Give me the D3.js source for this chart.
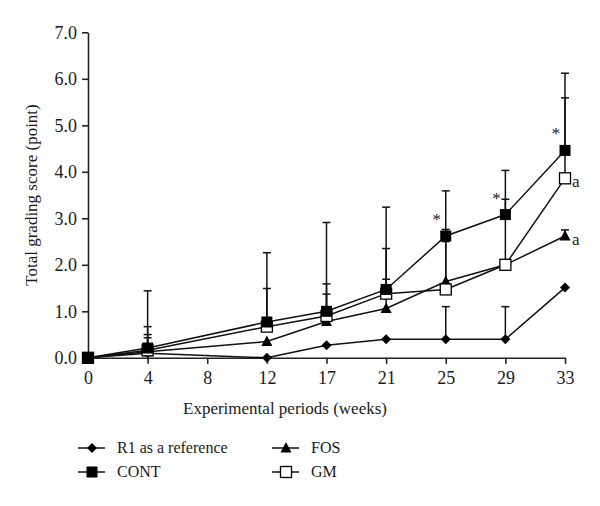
<!DOCTYPE html>
<html><head><meta charset="utf-8">
<script src="https://cdn.jsdelivr.net/npm/d3@7/dist/d3.min.js"></script>
<style>body{margin:0;background:#fff}svg{display:block}text{font-family:"Liberation Serif","DejaVu Serif",serif;fill:#1a1a1a}</style>
</head><body><svg id="c" width="600" height="506"></svg>
<script>
const xTicks = ["0","4","8","12","17","21","25","29","33"];
const weeks = ["0","4","12","17","21","25","29","33"];
const yTicks = [0,1,2,3,4,5,6,7];
const r1Mean   = [0, 0.10, 0.00, 0.27, 0.40, 0.40, 0.40, 1.51];
const r1Top    = [null, 0.43, null, null, null, 1.10, 1.10, null];
const contMean = [0, 0.21, 0.77, 1.00, 1.47, 2.62, 3.08, 4.46];
const contTop  = [null, 1.44, 2.26, 2.91, 3.24, 3.59, 4.03, 6.12];
const fosMean  = [0, 0.13, 0.35, 0.78, 1.06, 1.64, 2.00, 2.62];
const fosTop   = [null, 0.50, null, 1.37, 1.69, 2.50, null, 2.75];
const gmMean   = [0, 0.16, 0.67, 0.90, 1.38, 1.47, 2.00, 3.86];
const gmTop    = [null, 0.67, 1.49, 1.59, 2.35, 2.76, 3.41, 5.59];
const stars = [{w:"25", v:2.62}, {w:"29", v:3.08}, {w:"33", v:4.46}];
const letters = [{w:"33", v:3.86, t:"a"}, {w:"33", v:2.62, t:"a"}];
const seriesNames = ["R1 as a reference","CONT","FOS","GM"];

const svg = d3.select("#c");
const x = d3.scalePoint().domain(xTicks).range([88,565]).padding(0);
const y = d3.scaleLinear().domain([0,7]).range([357.8,32.3]);

const series = [
  {name:seriesNames[0], mean:r1Mean, top:r1Top, sym:"diamond"},
  {name:seriesNames[1], mean:contMean, top:contTop, sym:"square"},
  {name:seriesNames[2], mean:fosMean, top:fosTop, sym:"triangle"},
  {name:seriesNames[3], mean:gmMean, top:gmTop, sym:"open"}
];

const yAxis = svg.append("g").attr("transform","translate(88,0)")
  .call(d3.axisLeft(y).tickValues(yTicks).tickFormat(d3.format(".1f")).tickSize(6).tickSizeOuter(0));
const xAxis = svg.append("g").attr("transform","translate(0,357.8)")
  .call(d3.axisBottom(x).tickSize(6).tickSizeOuter(0));
[yAxis,xAxis].forEach(a=>{
  a.selectAll("path,line").attr("stroke","#222").attr("stroke-width",1.6);
  a.selectAll("text").attr("font-size",18).style("font-family","'Liberation Serif',serif").attr("fill","#1a1a1a");
});
yAxis.selectAll("text").attr("x",-11);
xAxis.selectAll("text").attr("y",13);

svg.append("text").attr("transform","translate(37,195) rotate(-90)").attr("text-anchor","middle")
  .attr("font-size",17).text("Total grading score (point)");
svg.append("text").attr("x",285).attr("y",414).attr("text-anchor","middle")
  .attr("font-size",17).text("Experimental periods (weeks)");

const line = d3.line().defined(d=>d[1]!=null).x(d=>x(d[0])).y(d=>y(d[1]));
series.forEach(s=>{
  svg.append("path").attr("d",line(weeks.map((w,i)=>[w,s.mean[i]])))
    .attr("fill","none").attr("stroke","#111").attr("stroke-width",1.5);
});
series.forEach(s=>{
  weeks.forEach((w,i)=>{
    if(s.top[i]==null) return;
    const cx = x(w);
    svg.append("line").attr("x1",cx).attr("x2",cx).attr("y1",y(s.mean[i])).attr("y2",y(s.top[i]))
      .attr("stroke","#111").attr("stroke-width",1.5);
    svg.append("line").attr("x1",cx-4).attr("x2",cx+4).attr("y1",y(s.top[i])).attr("y2",y(s.top[i]))
      .attr("stroke","#111").attr("stroke-width",1.5);
  });
});
function marker(g, sym, cx, cy){
  if(sym==="diamond"){
    g.append("path").attr("d",`M${cx},${cy-5}L${cx+5},${cy}L${cx},${cy+5}L${cx-5},${cy}Z`).attr("fill","#000");
  } else if(sym==="square"){
    g.append("rect").attr("x",cx-5.5).attr("y",cy-5.5).attr("width",11).attr("height",11).attr("fill","#000");
  } else if(sym==="triangle"){
    g.append("path").attr("d",`M${cx},${cy-6}L${cx+5.5},${cy+4.5}L${cx-5.5},${cy+4.5}Z`).attr("fill","#000");
  } else {
    g.append("rect").attr("x",cx-5.5).attr("y",cy-5.5).attr("width",11).attr("height",11)
      .attr("fill","#fff").attr("stroke","#000").attr("stroke-width",1.3);
  }
}
const mg = svg.append("g");
[0,2,3,1].forEach(k=>{
  const s = series[k];
  weeks.forEach((w,i)=>marker(mg, s.sym, x(w), y(s.mean[i])));
});
stars.forEach(s=>{
  svg.append("text").attr("x",x(s.w)-9).attr("y",y(s.v)-11).attr("text-anchor","middle")
    .attr("font-size",17).text("*");
});
letters.forEach(s=>{
  svg.append("text").attr("x",x(s.w)+7).attr("y",y(s.v)+9).attr("font-size",17).text(s.t);
});
const leg = [
  {s:series[0], x:78, y:448},
  {s:series[1], x:78, y:472},
  {s:series[2], x:272, y:448},
  {s:series[3], x:272, y:472}
];
leg.forEach(l=>{
  svg.append("line").attr("x1",l.x).attr("x2",l.x+27).attr("y1",l.y).attr("y2",l.y)
    .attr("stroke","#111").attr("stroke-width",1.5);
  marker(svg, l.s.sym, l.x+14, l.y);
  svg.append("text").attr("x",l.x+39).attr("y",l.y+5).attr("font-size",16).text(l.s.name);
});
</script></body></html>
